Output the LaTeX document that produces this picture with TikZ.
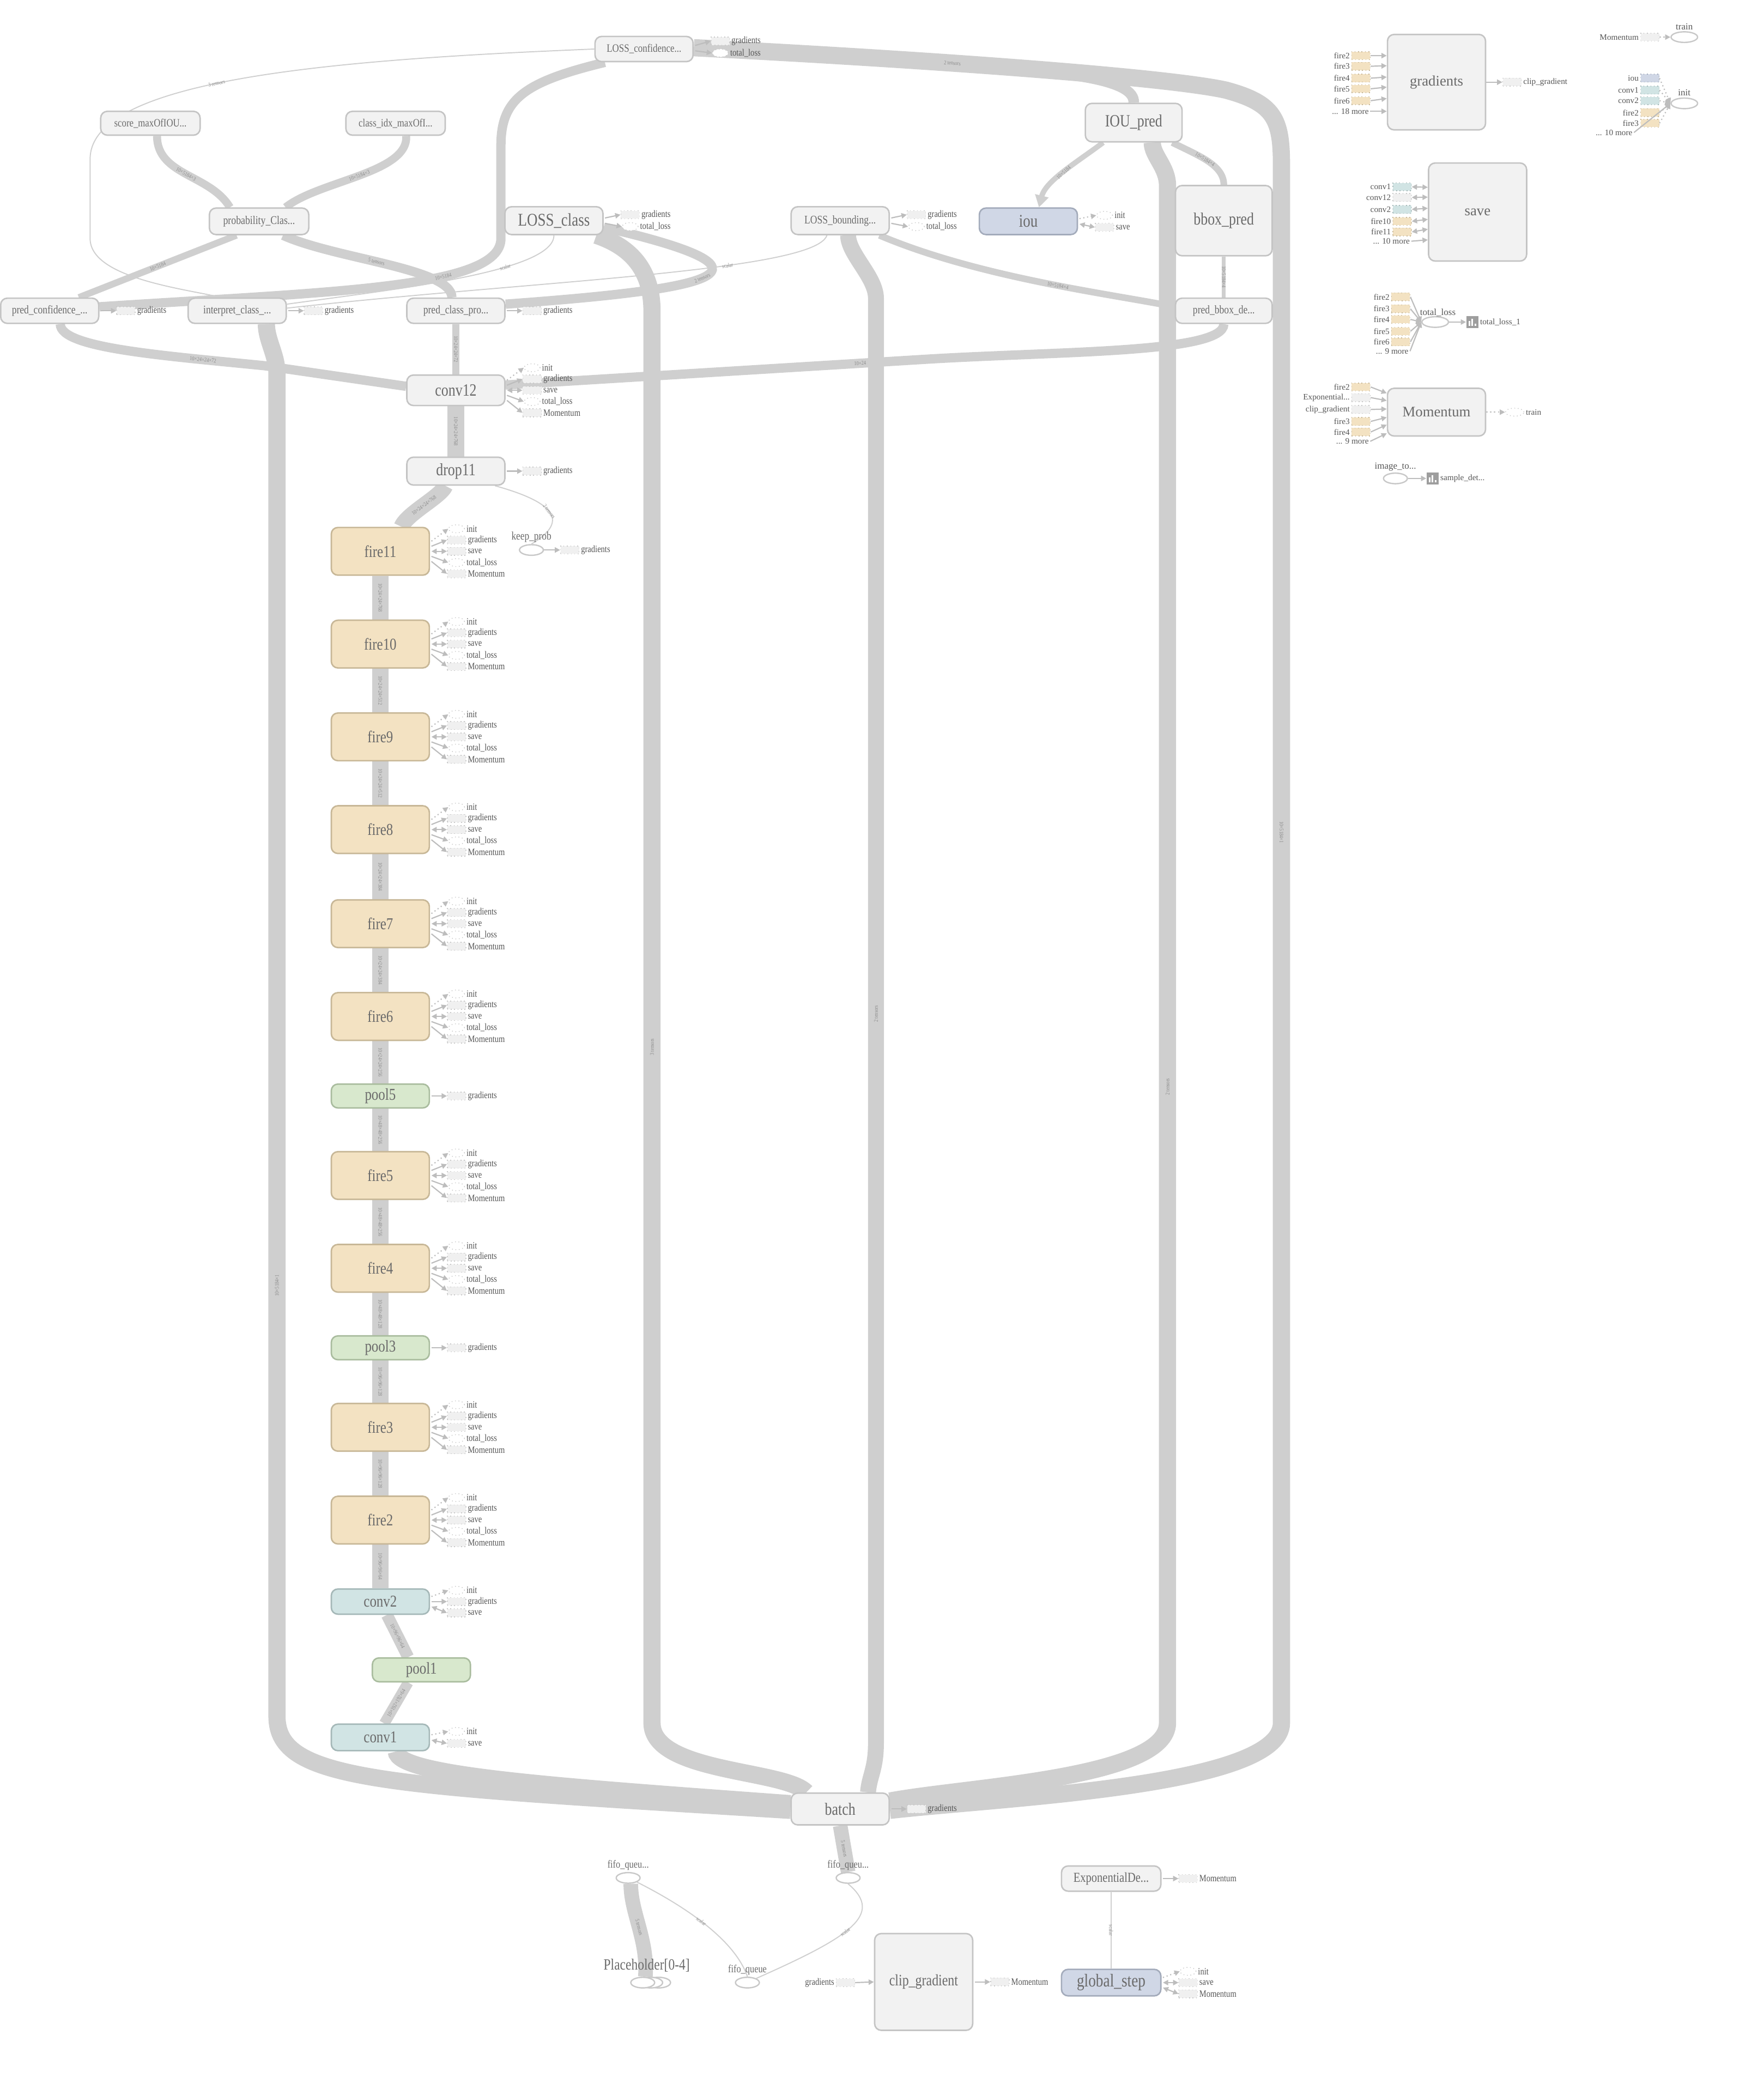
\documentclass[tikz,border=0pt]{standalone}
\usepackage{fontspec}
\setmainfont{Liberation Serif}
\newfontfamily\cond{Liberation Serif}[FakeStretch=0.82]
\usetikzlibrary{calc,arrows.meta,shapes.geometric}
\definecolor{edgec}{HTML}{CFCFCF}
\definecolor{nfill}{HTML}{F2F2F2}
\definecolor{nbord}{HTML}{C4C4C4}
\definecolor{ntext}{HTML}{6A6A6A}
\definecolor{ffill}{HTML}{F3E2C2}
\definecolor{fbord}{HTML}{C7B797}
\definecolor{pfill}{HTML}{D8E8CD}
\definecolor{pbord}{HTML}{A9BC9E}
\definecolor{cfill}{HTML}{D1E4E4}
\definecolor{cbord}{HTML}{A5B8B8}
\definecolor{bfill}{HTML}{D0D7E6}
\definecolor{bbord}{HTML}{A3ABBB}
\definecolor{arrc}{HTML}{BDBDBD}
\definecolor{ltext}{HTML}{555555}
\definecolor{etext}{HTML}{8C8C8C}
\definecolor{afill}{HTML}{F0F0F0}
\definecolor{abord}{HTML}{C8C8C8}
\definecolor{sumc}{HTML}{9E9E9E}
\pgfdeclarelayer{bg}
\pgfsetlayers{bg,main}
\newcommand\fsz[1]{\fontsize{#1}{#1}\selectfont}
\newcommand\expolab{Exponential...}
\tikzset{
 gn/.style={rectangle, rounded corners=5, draw=nbord, fill=nfill, line width=1.1, text=ntext, inner sep=0},
 sz/.style 2 args={minimum width=#1, minimum height=#2},
 fire/.style={gn, draw=fbord, fill=ffill, minimum width=74, minimum height=36, font=\cond\fsz{12.5}},
 pooln/.style={gn, draw=pbord, fill=pfill, minimum width=74, minimum height=18, font=\cond\fsz{12.5}},
 convn/.style={gn, draw=cbord, fill=cfill, minimum width=74, minimum height=20, font=\cond\fsz{12.5}},
 bluen/.style={gn, draw=bbord, fill=bfill},
 ell/.style={ellipse, draw=abord, line width=1, fill=white, minimum width=18, minimum height=8, inner sep=0},
 abox/.style={rectangle, draw=abord, dotted, fill=afill, line width=0.6, minimum width=14, minimum height=6, inner sep=0},
 aell/.style={ellipse, draw=abord, dotted, fill=white, line width=0.6, minimum width=12, minimum height=6, inner sep=0},
 alab/.style={anchor=west, text=ltext, font=\cond\fsz{7.3}, inner sep=1},
 aarr/.style={draw=arrc, line width=0.9, -{Triangle[length=4,width=4]}},
 aarrb/.style={draw=arrc, line width=0.9, {Triangle[length=4,width=4]}-{Triangle[length=4,width=4]}},
 be/.style={draw=edgec, line width=#1},
 be/.default=12,
 te/.style={draw=edgec, line width=0.8},
 el/.style={sloped, text=etext, font=\cond\fsz{4.3}, inner sep=0.5},
 elr/.style={rotate=90, text=etext, font=\cond\fsz{4.3}, inner sep=0.5},
 ib/.style={rectangle, dotted, line width=0.6, minimum width=14, minimum height=6, inner sep=0},
 iby/.style={ib, draw=fbord, fill=ffill},
 ibt/.style={ib, draw=cbord, fill=cfill},
 ibg/.style={ib, draw=abord, fill=afill},
 ibb/.style={ib, draw=bbord, fill=bfill},
 rlab/.style={anchor=east, text=ltext, font=\fsz{6.3}, inner sep=1},
 rlabw/.style={anchor=west, text=ltext, font=\fsz{6.3}, inner sep=1},
 toplab/.style={anchor=south, text=ntext, font=\cond\fsz{8.2}, inner sep=1},
 sumi/.style={rectangle, fill=sumc, minimum size=9, inner sep=0},
 bigr/.style={gn, font=\fsz{11}},
}
\newcommand\ann[6]{%
 \node[#3] (#2) at ($(#1.east)+(20,#4)$) {};
 \node[alab] (#2-l) at (#2.east) {#6};
 \draw[#5] ($(#1.east)+(1,#4*0.45)$) -- (#2.west);
}
\newcommand\fireann[1]{%
 \ann{#1}{#1-i}{aell}{-17}{aarr,dotted}{init}
 \ann{#1}{#1-g}{abox}{-8.5}{aarr}{gradients}
 \ann{#1}{#1-s}{abox}{0}{aarrb}{save}
 \ann{#1}{#1-t}{aell}{8.5}{aarr}{total\_loss}
 \ann{#1}{#1-m}{abox}{17}{aarr}{Momentum}
}
\newcommand\sumicon[1]{%
 \fill[white] ($(#1.center)+(-2.9,3)$) rectangle ++(1.3,-3.6);
 \fill[white] ($(#1.center)+(-0.65,3)$) rectangle ++(1.3,-5.6);
 \fill[white] ($(#1.center)+(1.6,3)$) rectangle ++(1.3,-1.8);
}
\begin{document}
\begin{tikzpicture}[x=1pt,y=-1pt]
\useasboundingbox (0,0) rectangle (1331,1568);

% ---------------- main graph nodes
\node[gn, sz={74}{19}, font=\cond\fsz{8.5}] (lconf) at (486,37) {LOSS\_confidence...};
\node[gn, sz={75}{18}, font=\cond\fsz{8.4}] (score) at (113.5,93) {score\_maxOfIOU...};
\node[gn, sz={75}{18}, font=\cond\fsz{8.4}] (classidx) at (298.5,93) {class\_idx\_maxOfI...};
\node[gn, sz={75}{20}, font=\cond\fsz{8.9}] (prob) at (195.5,167) {probability\_Clas...};
\node[gn, sz={74}{21}, font=\cond\fsz{13.5}] (lclass) at (418,166.5) {LOSS\_class};
\node[gn, sz={74}{21}, font=\cond\fsz{8.8}] (lbound) at (634,166.5) {LOSS\_bounding...};
\node[bluen, sz={74}{20}, font=\cond\fsz{13.5}] (iou) at (776,167) {iou};
\node[gn, sz={73}{29}, font=\cond\fsz{13}] (ioupred) at (855.5,92.5) {IOU\_pred};
\node[gn, sz={73}{53}, font=\cond\fsz{13}] (bboxpred) at (923.5,166.5) {bbox\_pred};
\node[gn, sz={73}{19}, font=\cond\fsz{8.8}] (predbbox) at (923.5,234.5) {pred\_bbox\_de...};
\node[gn, sz={74}{19}, font=\cond\fsz{8.8}] (predconf) at (37.5,234.5) {pred\_confidence\_...};
\node[gn, sz={74}{19}, font=\cond\fsz{8.8}] (interp) at (179,234.5) {interpret\_class\_...};
\node[gn, sz={74}{19}, font=\cond\fsz{8.8}] (predclass) at (344,234.5) {pred\_class\_pro...};
\node[gn, sz={74}{23}, font=\cond\fsz{13}] (conv12) at (344,294.5) {conv12};
\node[gn, sz={74}{21}, font=\cond\fsz{13}] (drop11) at (344,355.5) {drop11};
\foreach \n/\y in {11/416,10/486,9/556,8/626,7/697,6/767,5/887,4/957,3/1077,2/1147}
 {\node[fire] (fire\n) at (287,\y) {fire\n};}
\node[pooln] (pool5) at (287,827) {pool5};
\node[pooln] (pool3) at (287,1017) {pool3};
\node[convn, minimum height=19] (conv2) at (287,1208.5) {conv2};
\node[pooln] (pool1) at (318,1260) {pool1};
\node[convn] (conv1) at (287,1311) {conv1};
\node[gn, sz={74}{24}, font=\cond\fsz{13}] (batch) at (634,1365) {batch};
\node[gn, sz={74}{73}, font=\cond\fsz{12}] (clipgrad) at (697,1495.5) {clip\_gradient};
\node[gn, sz={75}{19}, font=\cond\fsz{10.3}] (expdecay) at (838.5,1417.5) {ExponentialDe...};
\node[bluen, sz={75}{20}, font=\cond\fsz{13.7}] (globalstep) at (838.5,1496) {global\_step};

% ellipses
\node[ell] (keepprob) at (401,415) {};
\node[toplab, font=\cond\fsz{8.7}] (keepprob-l) at (keepprob.north) {keep\_prob};
\node[ell] (fifoL) at (474,1417) {};
\node[toplab] (fifoL-l) at (fifoL.north) {fifo\_queu...};
\node[ell] (fifoR) at (640,1417) {};
\node[toplab] (fifoR-l) at (fifoR.north) {fifo\_queu...};
\node[ell] (fifoq) at (564,1496) {};
\node[toplab] (fifoq-l) at (fifoq.north) {fifo\_queue};
\node[ell] (ph3) at (497,1496) {};
\node[ell] (ph2) at (491,1496) {};
\node[ell] (ph1) at (485,1496) {};
\node[toplab, font=\cond\fsz{11.8}] (ph-l) at (488,1489) {Placeholder[0-4]};

% ---------------- annexes
\fireann{conv12}
\foreach \n in {11,10,9,8,7,6,5,4,3,2} {\fireann{fire\n}}
\ann{drop11}{drop11-g}{abox}{0}{aarr}{gradients}
\ann{pool5}{pool5-g}{abox}{0}{aarr}{gradients}
\ann{pool3}{pool3-g}{abox}{0}{aarr}{gradients}
\ann{conv2}{conv2-i}{aell}{-8.5}{aarr,dotted}{init}
\ann{conv2}{conv2-g}{abox}{0}{aarr}{gradients}
\ann{conv2}{conv2-s}{abox}{8.5}{aarrb}{save}
\ann{conv1}{conv1-i}{aell}{-4.5}{aarr,dotted}{init}
\ann{conv1}{conv1-s}{abox}{4.5}{aarrb}{save}
\ann{predconf}{predconf-g}{abox}{0}{aarr}{gradients}
\ann{interp}{interp-g}{abox}{0}{aarr}{gradients}
\ann{predclass}{predclass-g}{abox}{0}{aarr}{gradients}
\ann{lconf}{lconf-g}{abox}{-6}{aarr}{gradients}
\ann{lconf}{lconf-t}{aell}{3}{aarr}{total\_loss}
\ann{lclass}{lclass-g}{abox}{-4.5}{aarr}{gradients}
\ann{lclass}{lclass-t}{aell}{4.5}{aarr}{total\_loss}
\ann{lbound}{lbound-g}{abox}{-4.5}{aarr}{gradients}
\ann{lbound}{lbound-t}{aell}{4.5}{aarr}{total\_loss}
\ann{iou}{iou-i}{aell}{-4.5}{aarr,dotted}{init}
\ann{iou}{iou-s}{abox}{4.5}{aarrb}{save}
\ann{batch}{batch-g}{abox}{0}{aarr}{gradients}
\ann{clipgrad}{cg-m}{abox}{0}{aarr}{Momentum}
\ann{expdecay}{ed-m}{abox}{0}{aarr}{Momentum}
\ann{globalstep}{gs-i}{aell}{-8.5}{aarr,dotted}{init}
\ann{globalstep}{gs-s}{abox}{0}{aarrb}{save}
\ann{globalstep}{gs-m}{abox}{8.5}{aarrb}{Momentum}
\node[abox] (cg-g) at (638,1496) {};
\node[alab, anchor=east] (cg-gl) at (cg-g.west) {gradients};
\draw[aarr] (cg-g.east) -- (clipgrad.west);
\node[abox] (kp-g) at (430,415) {};
\node[alab] (kp-gl) at (kp-g.east) {gradients};
\draw[aarr] (keepprob.east) -- (kp-g.west);

% ---------------- edges (background)
\begin{pgfonlayer}{bg}
% long verticals into batch
\draw[be=13] ($(interp.south)+(22,0)$) .. controls +(0,12) and +(0,-14) .. (209,282) -- (209,1295) .. controls (209,1345) and (290,1347) .. ($(batch.west)+(0,1)$);
\draw[be=13] ($(conv1.south)+(12,0)$) .. controls (300,1340) and (420,1348) .. ($(batch.west)+(0,-4)$);
\draw[be=13] ($(lclass.south)+(32,0)$) .. controls (472,185) and (492,200) .. (492,235) -- (492,1300) .. controls (492,1338) and (592,1335) .. ($(batch.north west)+(12,0)$);
\draw[be=12] ($(lbound.south)+(6,0)$) .. controls +(0,14) and +(0,-16) .. (661,225) -- (661,1315) .. controls (661,1335) and (656,1340) .. ($(batch.north)+(21,0)$);
\draw[be=13] ($(ioupred.south)+(14,0)$) .. controls +(0,10) and +(0,-14) .. (881,140) -- (881,1300) .. controls (881,1342) and (730,1348) .. ($(batch.east)+(0,-6)$);
\draw[be=13] ($(lconf.east)+(0,-1)$) .. controls (700,45) and (880,58) .. (925,68) node[el,pos=0.38]{2 tensors} .. controls (962,78) and (967,90) .. (967,125) -- (967,1300) .. controls (967,1348) and (760,1356) .. ($(batch.east)+(0,1)$);
\draw[be=8] (ioupred.north) .. controls (856,69) and (845,62) .. (812,57);
% top graph edges
\draw[be=6] ($(score.south)+(5,0)$) .. controls +(0,30) and +(-15,-25) .. ($(prob.north)+(-22,0)$) node[el,pos=0.5]{10×5184×3};
\draw[be=6] ($(classidx.south)+(8,0)$) .. controls +(2,28) and +(25,-20) .. ($(prob.north)+(20,0)$) node[el,pos=0.5]{10×5184×3};
\draw[be=5] ($(prob.south)+(-17,0)$) -- ($(predconf.north)+(22,0)$) node[el,midway]{10×5184};
\draw[be=7] ($(prob.south)+(18,0)$) .. controls +(40,18) and +(0,-22) .. ($(predclass.north)+(-3,0)$) node[el,pos=0.45]{5 tensors};
\draw[be=7] ($(lclass.east)+(0,5)$) .. controls (600,205) and (540,218) .. ($(predclass.east)+(0,-5)$) node[el,pos=0.52]{2 tensors};
\draw[be=7] ($(lconf.south west)+(8,0)$) .. controls (395,62) and (378,75) .. (378,110) -- (378,180) .. controls (378,218) and (250,220) .. ($(predconf.east)+(0,-3)$) node[el,pos=0.35]{10×5184};
\draw[te] (lconf.west) .. controls (250,45) and (68,60) .. (68,120) node[el,pos=0.55]{3 tensors} -- (68,180) .. controls (68,210) and (140,218) .. ($(interp.north)+(-12,0)$);
\draw[te] (lclass.south) .. controls (418,205) and (300,218) .. ($(interp.east)+(0,-5)$) node[el,pos=0.35]{scalar};
\draw[te] ($(lbound.south)+(-10,0)$) .. controls (615,205) and (400,212) .. ($(interp.east)+(0,-2)$) node[el,pos=0.35]{scalar};
\draw[be=5] ($(lbound.south east)+(-8,0)$) .. controls (740,210) and (840,222) .. ($(predbbox.west)+(0,-3)$) node[el,pos=0.55]{10×5184×4};
\draw[be=4, -{Triangle[length=9,width=10]}] ($(ioupred.south west)+(14,0)$) .. controls +(-20,15) and +(5,-20) .. ($(iou.north)+(8,0)$) node[el,pos=0.5]{10×5184};
\draw[be=5] ($(ioupred.south east)+(-8,0)$) .. controls +(20,10) and +(0,-15) .. (bboxpred.north) node[el,pos=0.45]{10×5184×4};
\draw[be=3] (bboxpred.south) -- (predbbox.north) node[el,midway]{10×5184×4};
\draw[be=7] (predbbox.south) .. controls +(0,22) and (800,265) .. (700,271) -- ($(conv12.east)+(0,-4)$) node[el,pos=0.16]{10×24};
\draw[be=7] ($(predconf.south)+(8,0)$) .. controls +(0,18) and (120,268) .. (200,276) node[el,pos=0.8]{10×24×24×72} -- ($(conv12.west)+(0,-3)$);
\draw[be=5] (predclass.south) -- (conv12.north) node[el,midway]{10×24×24×72};
% chain
\draw[be=13] (conv12.south) -- (drop11.north) node[el,midway]{10×24×24×768};
\draw[be=12] ($(drop11.south)+(-8,0)$) .. controls +(-3,8) and +(4,-10) .. ($(fire11.north)+(16,0)$) node[el,midway]{10×24×24×768};
\draw[te] ($(drop11.south east)+(-8,0)$) .. controls (415,378) and (432,392) .. (keepprob.north) node[el,pos=0.5]{2 tensors};
\foreach \a/\b/\l in {fire11/fire10/10×24×24×768, fire10/fire9/10×24×24×512, fire9/fire8/10×24×24×512, fire8/fire7/10×24×24×384, fire7/fire6/10×24×24×384, fire6/pool5/10×24×24×256, pool5/fire5/10×48×48×256, fire5/fire4/10×48×48×256, fire4/pool3/10×48×48×128, pool3/fire3/10×96×96×128, fire3/fire2/10×96×96×128, fire2/conv2/10×96×96×64}
 {\draw[be=12] (\a.south) -- (\b.north) node[el,midway]{\l};}
\draw[be=9] ($(conv2.south)+(5,0)$) -- ($(pool1.north)+(-10,0)$) node[el,midway]{10×96×96×64};
\draw[be=8] ($(pool1.south)+(-10,0)$) -- ($(conv1.north)+(3,0)$) node[el,midway]{10×192×192×64};
% bottom
\draw[be=11] (batch.south) -- (fifoR.north) node[el,midway]{5 tensors};
\draw[be=11] ($(fifoL.south)+(2,0)$) .. controls +(0,22) and +(2,-28) .. ($(ph1.north)+(2,0)$) node[el,pos=0.5]{5 tensors};
\draw[te] (fifoL.south east) .. controls (520,1440) and (555,1465) .. (fifoq.north) node[el,pos=0.45]{scalar};
\draw[te] (fifoR.south) .. controls (668,1445) and (640,1462) .. (fifoq.north east) node[el,pos=0.55]{scalar};
\draw[te] (expdecay.south) -- (globalstep.north) node[el,midway]{scalar};
\end{pgfonlayer}
\node[elr] (vl1) at (209,970) {10×5184×1};
\node[elr] (vl2) at (492,790) {3 tensors};
\node[elr] (vl3) at (661,765) {2 tensors};
\node[elr] (vl4) at (881,820) {2 tensors};
\node[elr, rotate=180] (vl5) at (967,628) {10×5184×1};

% ---------------- right panel
\node[bigr, sz={74}{72}] (gradbox) at (1084,62) {gradients};
\foreach \lab/\y [count=\i] in {fire2/42,fire3/50,fire4/59,fire5/67,fire6/76} {
 \node[iby] (gin\i) at (1027,\y) {};
 \node[rlab] (gin\i-l) at (gin\i.west) {\lab};
 \draw[aarr] (gin\i.east) -- ($(gradbox.west)+(0,{(\y-62)*0.95-1})$);
}
\node[rlab] (gmore) at (1034,84) {... 18 more};
\draw[aarr] (gmore.east) -- ($(gradbox.west)+(0,22)$);
\node[ibg] (gout) at (1141,62) {};
\node[rlabw] (gout-l) at (gout.east) {clip\_gradient};
\draw[aarr] (gradbox.east) -- (gout.west);

\node[ibg] (trin) at (1245,28) {};
\node[rlab] (trin-l) at (trin.west) {Momentum};
\node[ell, minimum width=20] (trainE) at (1271,28) {};
\node[anchor=south, text=ltext, font=\fsz{7}, inner sep=1] (trainE-l) at (trainE.north) {train};
\draw[aarr, dotted] (trin.east) -- (trainE.west);

\node[ell, minimum width=20] (initE) at (1271,78) {};
\node[anchor=south, text=ltext, font=\fsz{7}, inner sep=1] (initE-l) at (initE.north) {init};
\foreach \lab/\y/\st [count=\i] in {iou/59/ibb,conv1/68/ibt,conv2/76/ibt,fire2/85/iby,fire3/93/iby} {
 \node[\st] (iin\i) at (1245,\y) {};
 \node[rlab] (iin\i-l) at (iin\i.west) {\lab};
 \draw[aarr, dotted] (iin\i.east) -- (initE.west);
}
\node[rlab] (imore) at (1233,100) {... 10 more};
\draw[aarr] (imore.east) -- (initE.west);

\node[bigr, sz={74}{74}] (savebox) at (1115,160) {save};
\foreach \lab/\y/\st [count=\i] in {conv1/141/ibt,conv12/149/ibg,conv2/158/ibt,fire10/167/iby,fire11/175/iby} {
 \node[\st] (sin\i) at (1058,\y) {};
 \node[rlab] (sin\i-l) at (sin\i.west) {\lab};
 \draw[aarrb] (sin\i.east) -- ($(savebox.west)+(0,{(\y-160)*0.93-1})$);
}
\node[rlab] (smore) at (1065,182) {... 10 more};
\draw[aarr] (smore.east) -- ($(savebox.west)+(0,21)$);

\node[ell, minimum width=20] (tlE) at (1083,243) {};
\node[anchor=south, text=ltext, font=\fsz{7}, inner sep=1] (tlE-l) at (1085,240) {total\_loss};
\foreach \lab/\y [count=\i] in {fire2/224,fire3/233,fire4/241,fire5/250,fire6/258} {
 \node[iby] (tin\i) at (1057,\y) {};
 \node[rlab] (tin\i-l) at (tin\i.west) {\lab};
 \draw[aarr] (tin\i.east) -- (tlE.west);
}
\node[rlab] (tmore) at (1064,265) {... 9 more};
\draw[aarr] (tmore.east) -- (tlE.west);
\node[sumi] (tl1) at (1111,243) {};
\sumicon{tl1}
\node[rlabw] (tl1-l) at (tl1.east) {total\_loss\_1};
\draw[aarr] (tlE.east) -- (tl1.west);

\node[bigr, sz={74}{36}] (momentum) at (1084,311) {Momentum};
\foreach \lab/\y/\st [count=\i] in {fire2/292/iby,\expolab/300/ibg,clip\_gradient/309/ibg,fire3/318/iby,fire4/326/iby} {
 \node[\st] (min\i) at (1027,\y) {};
 \node[rlab] (min\i-l) at (min\i.west) {\lab};
 \draw[aarr] (min\i.east) -- ($(momentum.west)+(0,{(\y-311)*0.7-1})$);
}
\node[rlab] (mmore) at (1034,333) {... 9 more};
\draw[aarr] (mmore.east) -- ($(momentum.west)+(0,16)$);
\node[aell, minimum width=14] (mtrain) at (1143,311) {};
\node[rlabw] (mtrain-l) at (mtrain.east) {train};
\draw[aarr, dotted] (momentum.east) -- (mtrain.west);

\node[ell] (imgE) at (1053,361) {};
\node[anchor=south, text=ltext, font=\fsz{7}, inner sep=1] (imgE-l) at (imgE.north) {image\_to...};
\node[sumi] (sd) at (1081,361) {};
\sumicon{sd}
\node[rlabw] (sd-l) at (sd.east) {sample\_det...};
\draw[aarr] (imgE.east) -- (sd.west);
\end{tikzpicture}
\end{document}
